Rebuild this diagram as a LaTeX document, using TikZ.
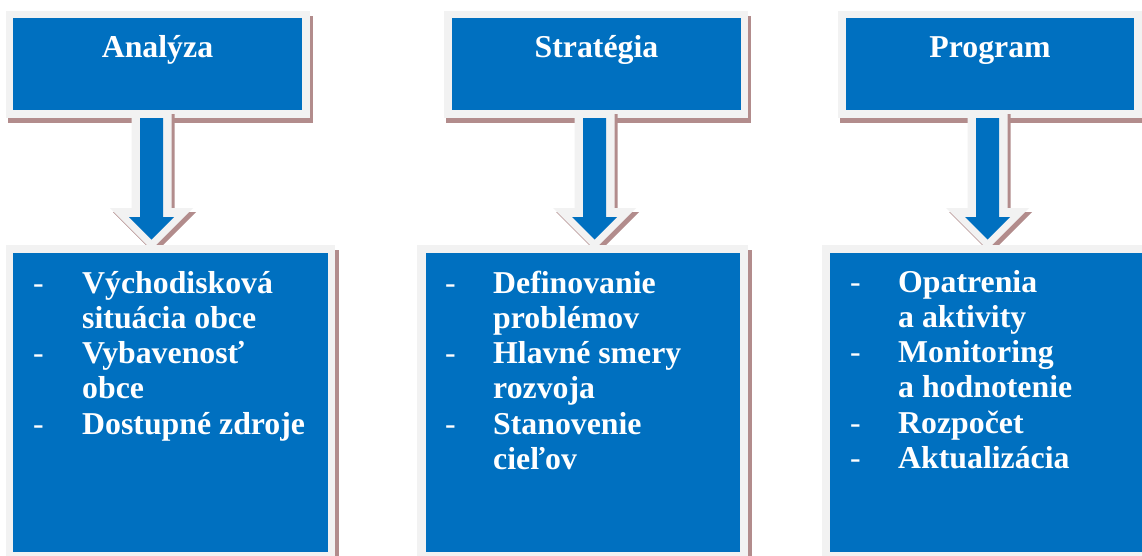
\documentclass[tikz,border=0pt]{standalone}
\usepackage{fontspec}
\setmainfont{Liberation Serif}
\definecolor{boxblue}{HTML}{0070C0}
\definecolor{framegray}{HTML}{F2F2F2}
\definecolor{shadowc}{RGB}{178,140,140}
\begin{document}
\begin{tikzpicture}[x=1pt,y=-1pt,
  shadowfill/.style={fill=shadowc},
  framefill/.style={fill=framegray},
  bluefill/.style={fill=boxblue},
  headtext/.style={text=white,font=\fontsize{31.8}{35.2}\selectfont\bfseries,inner sep=0pt,anchor=base},
  itemtext/.style={text=white,font=\fontsize{31.8}{35.2}\selectfont\bfseries,inner sep=0pt,anchor=base west},
  dashtext/.style={text=white,font=\fontsize{31.8}{35.2}\selectfont,inner sep=0pt,anchor=base west}]
\useasboundingbox (0,0) rectangle (1142,555);
\clip (0,0) rectangle (1142,555);
\fill[white] (0,0) rectangle (1142,555);

% top boxes
\foreach \l/\r/\bl/\br in {6/310/13/302, 444/748/452/741, 838/1142/846/1134} {
  \fill[shadowfill] (\l+2,16) rectangle (\r+3,123);
  \fill[framefill] (\l,11) rectangle (\r,118);
  \fill[bluefill] (\bl,18) rectangle (\br,110);
}
\node[headtext] (hA) at (157.5,57) {Analýza};
\node[headtext] (hS) at (596.5,57) {Stratégia};
\node[headtext] (hP) at (990,57) {Program};

% block arrows
\foreach \c in {151.5,594.5,987.5} {
  \fill[shadowfill,shift={(3,4)}] (\c-20,110) -- (\c-20,208) -- (\c-41.5,208) -- (\c,249.5) -- (\c+41.5,208) -- (\c+20,208) -- (\c+20,110) -- cycle;
  \fill[framefill] (\c-20,110) -- (\c-20,208) -- (\c-41.5,208) -- (\c,249.5) -- (\c+41.5,208) -- (\c+20,208) -- (\c+20,110) -- cycle;
  \fill[bluefill] (\c-11.5,118) -- (\c-11.5,217) -- (\c-22.5,217) -- (\c,239.5) -- (\c+22.5,217) -- (\c+11.5,217) -- (\c+11.5,118) -- cycle;
}

% bottom boxes
\foreach \l/\r/\bl/\br in {6/335/13/328, 417/748/426/740, 822/1160/830/1160} {
  \fill[shadowfill] (\l+3,250) rectangle (\r+4,560);
  \fill[framefill] (\l,245) rectangle (\r,560);
  \fill[bluefill] (\bl,253) rectangle (\br,552);
}

% left list
\node[dashtext] (dA1) at (33,293) {-};
\node[itemtext] (tA1) at (82,293) {Východisková};
\node[itemtext] (tA2) at (82,328.25) {situácia obce};
\node[dashtext] (dA2) at (33,363.5) {-};
\node[itemtext] (tA3) at (82,363.5) {Vybavenosť};
\node[itemtext] (tA4) at (82,398.75) {obce};
\node[dashtext] (dA3) at (33,434) {-};
\node[itemtext] (tA5) at (82,434) {Dostupné zdroje};

% middle list
\node[dashtext] (dS1) at (445,293) {-};
\node[itemtext] (tS1) at (493,293) {Definovanie};
\node[itemtext] (tS2) at (493,328.25) {problémov};
\node[dashtext] (dS2) at (445,363.5) {-};
\node[itemtext] (tS3) at (493,363.5) {Hlavné smery};
\node[itemtext] (tS4) at (493,398.75) {rozvoja};
\node[dashtext] (dS3) at (445,434) {-};
\node[itemtext] (tS5) at (493,434) {Stanovenie};
\node[itemtext] (tS6) at (493,469.25) {cieľov};

% right list
\node[dashtext] (dP1) at (850,292) {-};
\node[itemtext] (tP1) at (898,292) {Opatrenia};
\node[itemtext] (tP2) at (898,327.25) {a aktivity};
\node[dashtext] (dP2) at (850,362.5) {-};
\node[itemtext] (tP3) at (898,362.5) {Monitoring};
\node[itemtext] (tP4) at (898,397.75) {a hodnotenie};
\node[dashtext] (dP3) at (850,433) {-};
\node[itemtext] (tP5) at (898,433) {Rozpočet};
\node[dashtext] (dP4) at (850,468.25) {-};
\node[itemtext] (tP6) at (898,468.25) {Aktualizácia};
\end{tikzpicture}
\end{document}
